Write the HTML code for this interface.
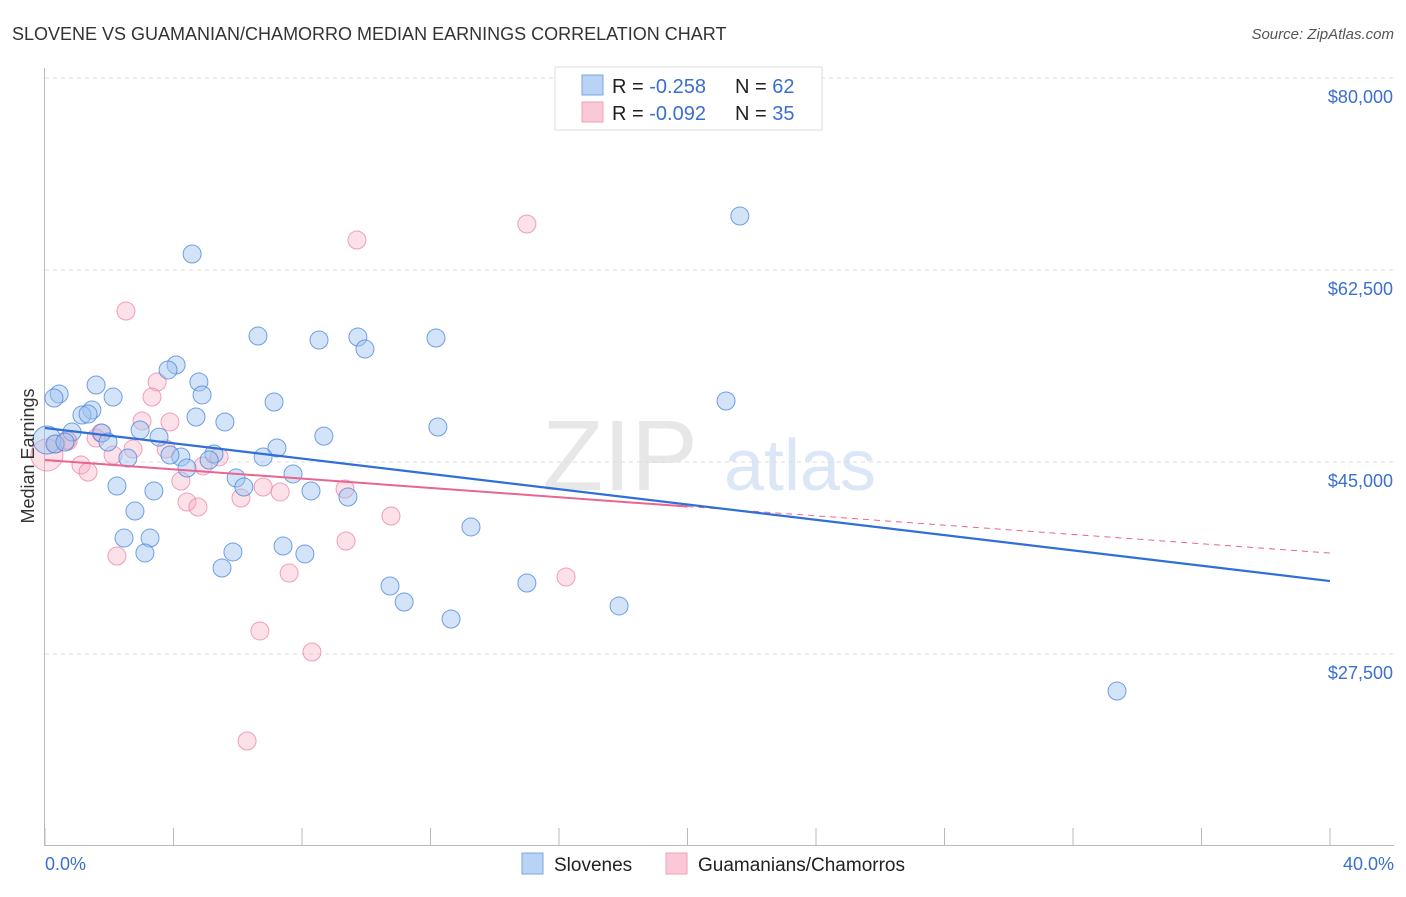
<!DOCTYPE html>
<html><head><meta charset="utf-8">
<style>
body{margin:0;background:#fff;font-family:"Liberation Sans",sans-serif;}
svg text{font-family:"Liberation Sans",sans-serif;}
</style></head>
<body>
<svg id="chart" width="1406" height="892" viewBox="0 0 1406 892" xmlns="http://www.w3.org/2000/svg">
<text x="12" y="40" font-size="18" fill="#333">SLOVENE VS GUAMANIAN/CHAMORRO MEDIAN EARNINGS CORRELATION CHART</text>
<text x="1394" y="39" font-size="15" fill="#555" text-anchor="end" font-style="italic">Source: ZipAtlas.com</text>
<text x="620" y="490" font-size="100" fill="#d8d8d8" font-family="Liberation Serif" text-anchor="middle" opacity="0.6">ZIP</text>
<text x="800" y="490" font-size="72" fill="#b8cff0" text-anchor="middle" opacity="0.5">atlas</text>
<g id="grid"></g>
<g id="axes"></g>
<g id="marks"></g>
<text transform="translate(34,456) rotate(-90)" font-size="18" fill="#333" text-anchor="middle">Median Earnings</text>
<text x="45" y="870" font-size="18" fill="#3a6fd0">0.0%</text>
<text x="1394" y="870" font-size="18" fill="#3a6fd0" text-anchor="end">40.0%</text>
<g>
<rect x="555" y="67" width="267" height="63" fill="#fff" stroke="#ddd"/>
<rect x="582" y="75" width="21" height="20" fill="#b9d3f5" stroke="#7aa5e6"/>
<rect x="582" y="102" width="21" height="20" fill="#fbc8d7" stroke="#f0a0b8"/>
<text x="612" y="93" font-size="20" fill="#222">R = <tspan fill="#3a6fd0">-0.258</tspan><tspan x="735">N = </tspan><tspan fill="#3a6fd0">62</tspan></text>
<text x="612" y="120" font-size="20" fill="#222">R = <tspan fill="#3a6fd0">-0.092</tspan><tspan x="735">N = </tspan><tspan fill="#3a6fd0">35</tspan></text>
</g>
<g>
<rect x="522" y="853" width="21" height="21" fill="#b9d3f5" stroke="#7aa5e6"/>
<text x="554" y="871" font-size="19" fill="#222">Slovenes</text>
<rect x="666" y="853" width="21" height="21" fill="#fbc8d7" stroke="#f0a0b8"/>
<text x="698" y="871" font-size="19" fill="#222">Guamanians/Chamorros</text>
</g>
</svg>
<script>
const yTicks=[80000,62500,45000,27500];
const yTickLabels=["$80,000","$62,500","$45,000","$27,500"];
const xTicks=[0,4,8,12,16,20,24,28,32,36,40];
const blueX=[21.63,4.58,6.63,8.53,9.74,9.96,12.17,4.08,3.83,1.59,4.79,0.44,0.28,4.89,2.12,7.13,21.20,1.46,1.15,1.34,5.60,12.23,2.96,0.84,1.77,8.68,3.55,7.22,5.26,4.23,6.79,3.89,2.58,5.11,4.42,7.72,5.95,6.19,2.24,3.39,8.28,9.43,2.80,13.26,2.46,3.27,7.41,5.85,3.11,8.09,5.51,10.74,15.00,11.18,17.87,12.64,33.37,0.06,0.31,0.62,1.96,4.70];
const blueY=[67420,63960,56480,56120,56390,55300,56300,53840,53390,52020,52290,51200,50830,51110,50920,50470,50560,49740,49280,49370,48650,48190,47920,47730,47640,47360,47270,46280,45730,45460,45460,45640,45360,45180,44450,43910,43540,42720,42810,42360,42360,41810,40530,39080,38070,38070,37340,36800,36710,36620,35340,33700,33970,32240,31880,30690,24130,47000,46640,46820,46820,49100];
const pinkX=[9.71,15.00,2.52,3.49,3.33,3.02,3.89,1.74,1.59,0.72,0.34,0.06,2.12,2.74,3.77,5.42,4.92,1.12,1.34,4.23,6.79,7.32,4.42,4.76,6.10,9.34,10.77,9.37,2.24,7.60,16.22,6.69,8.31,6.29,0.68];
const pinkY=[65230,66690,58760,52290,50920,48740,48650,47640,47190,46910,46640,45640,45640,46180,46180,45460,44640,44730,44090,43270,42720,42270,41350,40900,41720,42540,40080,37800,36430,34880,34520,29600,27680,19570,47000];
const blueTrend=[48100,34150];
const pinkTrend=[45180,36700];
const pinkSolidEnd=20;

const NS="http://www.w3.org/2000/svg";
const xs=v=>45+v/40*1285;
const ys=v=>78+(80000-v)/17500*192;
function mk(tag,attrs,parent){const e=document.createElementNS(NS,tag);for(const k in attrs)e.setAttribute(k,attrs[k]);document.getElementById(parent).appendChild(e);return e;}
yTicks.forEach((t,i)=>{
  const l=mk('line',{x1:45,x2:1394,y1:ys(t),y2:ys(t),stroke:'#ddd','stroke-dasharray':'4,4'},'grid');
  
  
  const tx=mk('text',{x:1393,y:ys(t)+25,'font-size':18,fill:'#3a6fd0','text-anchor':'end'},'grid');
  tx.textContent=yTickLabels[i];
  
  
});
const ya=mk('line',{x1:44.5,x2:44.5,y1:68,y2:845,stroke:'#bbb'},'axes');


const xa=mk('line',{x1:44,x2:1394,y1:845.5,y2:845.5,stroke:'#bbb'},'axes');


xTicks.forEach(t=>{
  const l=mk('line',{x1:xs(t),x2:xs(t),y1:828,y2:845,stroke:'#bbb'},'axes');
  
  
});
pinkX.forEach((x,i)=>{
  const c=mk('circle',{cx:xs(x),cy:ys(pinkY[i]),r:(i==11?16:9),fill:'rgba(246,168,192,0.35)',stroke:'rgba(236,130,165,0.75)','stroke-width':1},'marks');
  
  
});
blueX.forEach((x,i)=>{
  const c=mk('circle',{cx:xs(x),cy:ys(blueY[i]),r:(i==57?14:9),fill:'rgba(160,196,240,0.45)',stroke:'rgba(70,130,220,0.75)','stroke-width':1},'marks');
  
  
});
const pAt=x=>pinkTrend[0]+(pinkTrend[1]-pinkTrend[0])*x/40;
const pl=mk('line',{x1:xs(0),y1:ys(pinkTrend[0]),x2:xs(pinkSolidEnd),y2:ys(pAt(pinkSolidEnd)),stroke:'#e8658f','stroke-width':2},'marks');


const pd=mk('line',{x1:xs(pinkSolidEnd),y1:ys(pAt(pinkSolidEnd)),x2:xs(40),y2:ys(pinkTrend[1]),stroke:'#e8658f','stroke-width':1,'stroke-dasharray':'6,5'},'marks');


const bl=mk('line',{x1:xs(0),y1:ys(blueTrend[0]),x2:xs(40),y2:ys(blueTrend[1]),stroke:'#2f6fd6','stroke-width':2.2},'marks');


</script>
</body></html>
